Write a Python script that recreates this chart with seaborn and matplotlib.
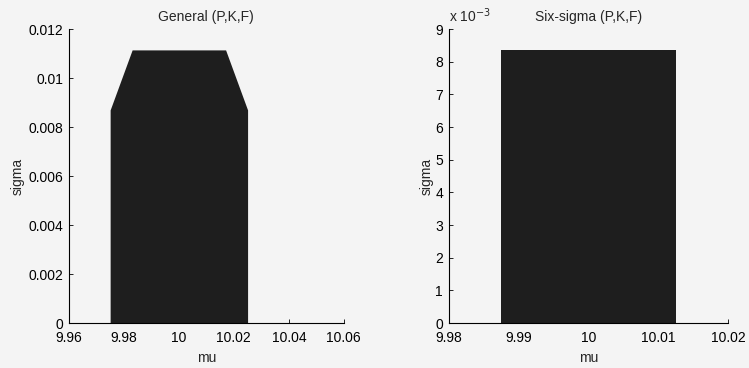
import numpy as np
import matplotlib
matplotlib.use("Agg")
import matplotlib.pyplot as plt
import matplotlib.ticker as mticker
import seaborn as sns

# feasible region outlines (mu, sigma)
mu_general = [9.975, 9.975, 9.983, 10.017, 10.025, 10.025]
sigma_general = [0.0, 0.0087, 0.01115, 0.01115, 0.0087, 0.0]

mu_six = [9.9875, 9.9875, 10.0125, 10.0125]
sigma_six = [0.0, 0.00835, 0.00835, 0.0]

xticks_general = [9.96, 9.98, 10.0, 10.02, 10.04, 10.06]
xlabels_general = ["9.96", "9.98", "10", "10.02", "10.04", "10.06"]
yticks_general = [0, 0.002, 0.004, 0.006, 0.008, 0.01, 0.012]
ylabels_general = ["0", "0.002", "0.004", "0.006", "0.008", "0.01", "0.012"]

xticks_six = [9.98, 9.99, 10.0, 10.01, 10.02]
xlabels_six = ["9.98", "9.99", "10", "10.01", "10.02"]
yticks_six = [i * 0.001 for i in range(10)]

sns.set_theme(style="ticks")
plt.rcParams['font.family'] = ['Liberation Sans', 'DejaVu Sans']
bg = "#f4f4f4"
fill = "#1e1e1e"
fs = 10

fig = plt.figure(figsize=(7.49, 3.68), dpi=100, facecolor=bg)
ax1 = fig.add_axes([0.092, 0.122, 0.367, 0.799])
ax2 = fig.add_axes([0.599, 0.122, 0.373, 0.799])

for ax in (ax1, ax2):
    ax.set_facecolor(bg)
    sns.despine(ax=ax)
    ax.tick_params(direction="in", length=3, width=0.6, labelsize=fs, colors="black")
    ax.tick_params(axis="x", pad=6)
    ax.tick_params(axis="y", pad=4)
    for s in ("left", "bottom"):
        ax.spines[s].set_linewidth(0.8)
        ax.spines[s].set_color("black")

ax1.fill_between(mu_general, sigma_general, color=fill, linewidth=0)
ax1.set_xlim(9.96, 10.06)
ax1.set_ylim(0, 0.012)
ax1.set_xticks(xticks_general)
ax1.set_xticklabels(xlabels_general)
ax1.set_yticks(yticks_general)
ax1.set_yticklabels(ylabels_general)
ax1.set_title("General (P,K,F)", fontsize=fs, pad=6)
ax1.set_xlabel("mu", fontsize=fs, labelpad=4)
ax1.set_ylabel("sigma", fontsize=fs, labelpad=3)

ax2.fill_between(mu_six, sigma_six, color=fill, linewidth=0)
ax2.set_xlim(9.98, 10.02)
ax2.set_ylim(0, 0.009)
ax2.set_xticks(xticks_six)
ax2.set_xticklabels(xlabels_six)
ax2.set_yticks(yticks_six)
ax2.yaxis.set_major_formatter(mticker.FuncFormatter(lambda v, p: "%d" % round(v * 1000)))
ax2.text(0.0, 1.015, "x 10$^{-3}$", transform=ax2.transAxes, fontsize=fs, va="bottom", ha="left")
ax2.set_title("Six-sigma (P,K,F)", fontsize=fs, pad=6)
ax2.set_xlabel("mu", fontsize=fs, labelpad=4)
ax2.set_ylabel("sigma", fontsize=fs, labelpad=1)

fig.savefig("out.png", dpi=100, facecolor=bg)
